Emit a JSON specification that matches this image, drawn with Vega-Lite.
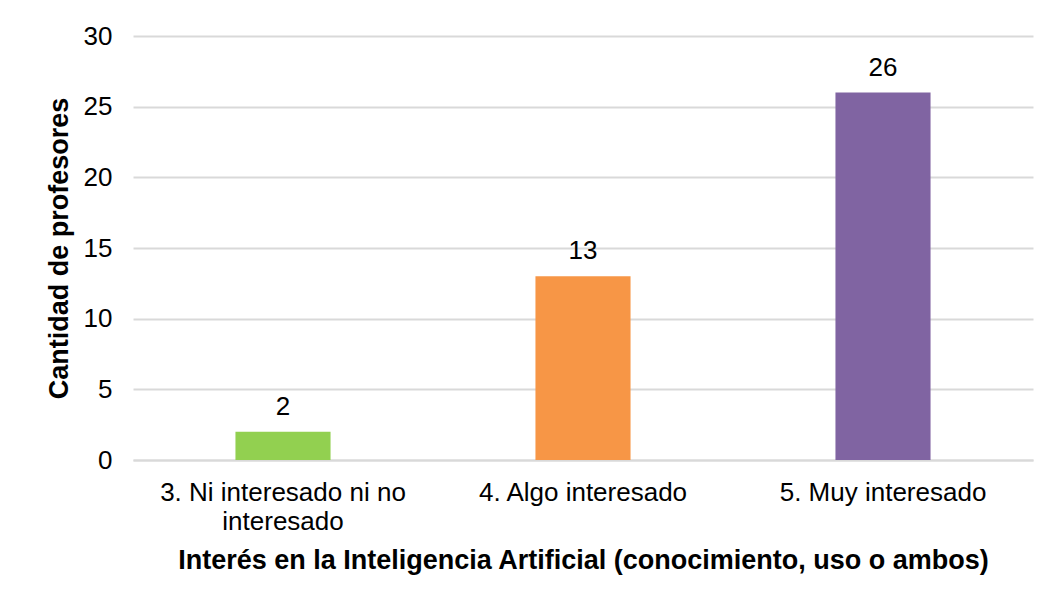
{
  "$schema": "https://vega.github.io/schema/vega-lite/v6.json",
  "autosize": {"type": "none"},
  "width": 900,
  "height": 424,
  "padding": {"left": 133, "top": 36, "right": 17, "bottom": 147},
  "background": "white",
  "config": {
    "view": {"stroke": null},
    "font": "Liberation Sans"
  },
  "data": {
    "values": [
      {"interes": "3. Ni interesado ni no interesado", "cantidad": 2, "color": "#92D050"},
      {"interes": "4. Algo interesado", "cantidad": 13, "color": "#F79646"},
      {"interes": "5. Muy interesado", "cantidad": 26, "color": "#8064A2"}
    ]
  },
  "encoding": {
    "x": {
      "field": "interes",
      "type": "nominal",
      "sort": null,
      "scale": {"paddingInner": 0.683, "paddingOuter": 0.3415},
      "axis": {
        "title": "Interés en la Inteligencia Artificial (conocimiento, uso o ambos)",
        "titleFont": "Liberation Sans",
        "titleFontSize": 27,
        "titleFontWeight": "bold",
        "titleColor": "#000000",
        "titlePadding": 13,
        "labelAngle": 0,
        "labelFont": "Liberation Sans",
        "labelFontSize": 26,
        "labelColor": "#000000",
        "labelPadding": 19,
        "labelLineHeight": 29,
        "labelLimit": 500,
        "labelExpr": "datum.label == '3. Ni interesado ni no interesado' ? ['3. Ni interesado ni no', 'interesado'] : datum.label",
        "ticks": false,
        "domain": true,
        "domainColor": "#d9d9d9",
        "domainWidth": 2,
        "grid": false
      }
    },
    "y": {
      "field": "cantidad",
      "type": "quantitative",
      "scale": {"domain": [0, 30], "nice": false},
      "axis": {
        "title": "Cantidad de profesores",
        "titleFont": "Liberation Sans",
        "titleFontSize": 27,
        "titleFontWeight": "bold",
        "titleColor": "#000000",
        "titlePadding": 10,
        "values": [0, 5, 10, 15, 20, 25, 30],
        "labelFont": "Liberation Sans",
        "labelFontSize": 26,
        "labelColor": "#000000",
        "labelPadding": 21,
        "ticks": false,
        "domain": false,
        "grid": true,
        "gridColor": "#d9d9d9",
        "gridWidth": 2
      }
    }
  },
  "layer": [
    {
      "mark": {"type": "bar"},
      "encoding": {
        "color": {"field": "color", "type": "nominal", "scale": null, "legend": null}
      }
    },
    {
      "mark": {"type": "text", "baseline": "alphabetic", "dy": -17, "fontSize": 26, "font": "Liberation Sans", "color": "#000000"},
      "encoding": {
        "text": {"field": "cantidad", "type": "quantitative"}
      }
    }
  ]
}
